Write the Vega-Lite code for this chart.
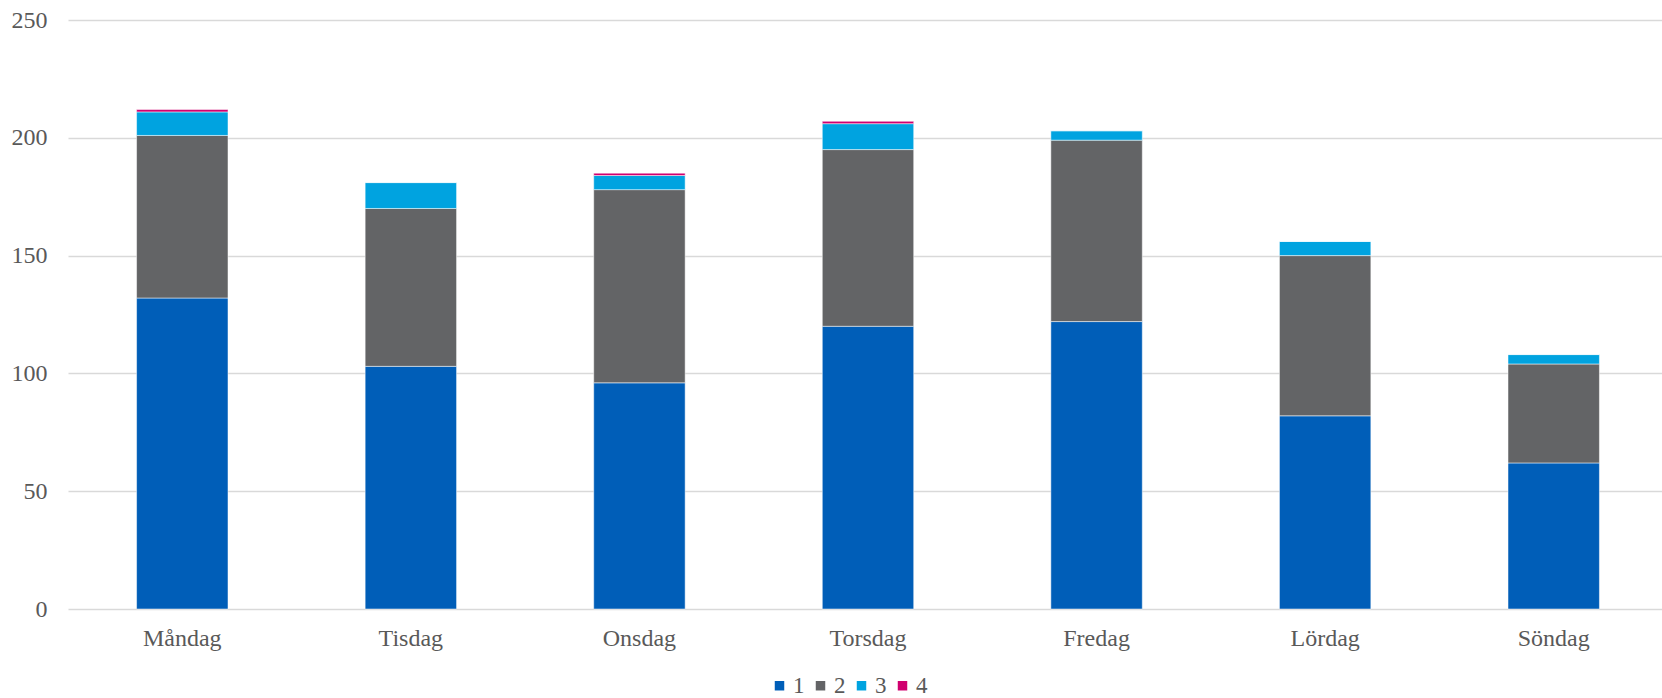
{
  "$schema": "https://vega.github.io/schema/vega-lite/v6.json",
  "width": 1600,
  "height": 589,
  "autosize": {"type": "none"},
  "padding": {"left": 68, "top": 20, "right": 0, "bottom": 89},
  "background": "white",
  "config": {"view": {"stroke": null}, "font": "Liberation Serif"},
  "data": {"values": [
    {"dag": "Måndag", "serie": "1", "antal": 132},
    {"dag": "Måndag", "serie": "2", "antal": 69},
    {"dag": "Måndag", "serie": "3", "antal": 10},
    {"dag": "Måndag", "serie": "4", "antal": 1},
    {"dag": "Tisdag", "serie": "1", "antal": 103},
    {"dag": "Tisdag", "serie": "2", "antal": 67},
    {"dag": "Tisdag", "serie": "3", "antal": 11},
    {"dag": "Tisdag", "serie": "4", "antal": 0},
    {"dag": "Onsdag", "serie": "1", "antal": 96},
    {"dag": "Onsdag", "serie": "2", "antal": 82},
    {"dag": "Onsdag", "serie": "3", "antal": 6},
    {"dag": "Onsdag", "serie": "4", "antal": 1},
    {"dag": "Torsdag", "serie": "1", "antal": 120},
    {"dag": "Torsdag", "serie": "2", "antal": 75},
    {"dag": "Torsdag", "serie": "3", "antal": 11},
    {"dag": "Torsdag", "serie": "4", "antal": 1},
    {"dag": "Fredag", "serie": "1", "antal": 122},
    {"dag": "Fredag", "serie": "2", "antal": 77},
    {"dag": "Fredag", "serie": "3", "antal": 4},
    {"dag": "Fredag", "serie": "4", "antal": 0},
    {"dag": "Lördag", "serie": "1", "antal": 82},
    {"dag": "Lördag", "serie": "2", "antal": 68},
    {"dag": "Lördag", "serie": "3", "antal": 6},
    {"dag": "Lördag", "serie": "4", "antal": 0},
    {"dag": "Söndag", "serie": "1", "antal": 62},
    {"dag": "Söndag", "serie": "2", "antal": 42},
    {"dag": "Söndag", "serie": "3", "antal": 4},
    {"dag": "Söndag", "serie": "4", "antal": 0}
  ]},
  "mark": {"type": "bar", "stroke": "white", "strokeWidth": 0.5},
  "encoding": {
    "x": {
      "field": "dag", "type": "nominal",
      "sort": ["Måndag", "Tisdag", "Onsdag", "Torsdag", "Fredag", "Lördag", "Söndag"],
      "scale": {"paddingInner": 0.6, "paddingOuter": 0.3},
      "axis": {"title": null, "labelAngle": 0, "ticks": false, "domain": false, "labelFontSize": 24, "labelColor": "#595959", "labelPadding": 17}
    },
    "y": {
      "field": "antal", "type": "quantitative", "stack": "zero",
      "scale": {"domain": [0, 250]},
      "axis": {"title": null, "values": [0, 50, 100, 150, 200, 250], "ticks": false, "domain": false, "labelFontSize": 24, "labelColor": "#595959", "labelPadding": 21, "gridColor": "#d9d9d9", "gridWidth": 1.5}
    },
    "color": {
      "field": "serie", "type": "nominal",
      "scale": {"domain": ["1", "2", "3", "4"], "range": ["#005EB8", "#636466", "#00A3E0", "#D0006F"]},
      "legend": {"title": null, "orient": "none", "direction": "horizontal", "legendX": 700, "legendY": 654, "symbolType": "square", "symbolSize": 90, "symbolStrokeWidth": 0, "labelFontSize": 23, "labelColor": "#595959", "labelOffset": 2, "columnPadding": 4, "labelLimit": 0}
    },
    "order": {"field": "serie", "type": "nominal", "sort": "ascending"}
  }
}
